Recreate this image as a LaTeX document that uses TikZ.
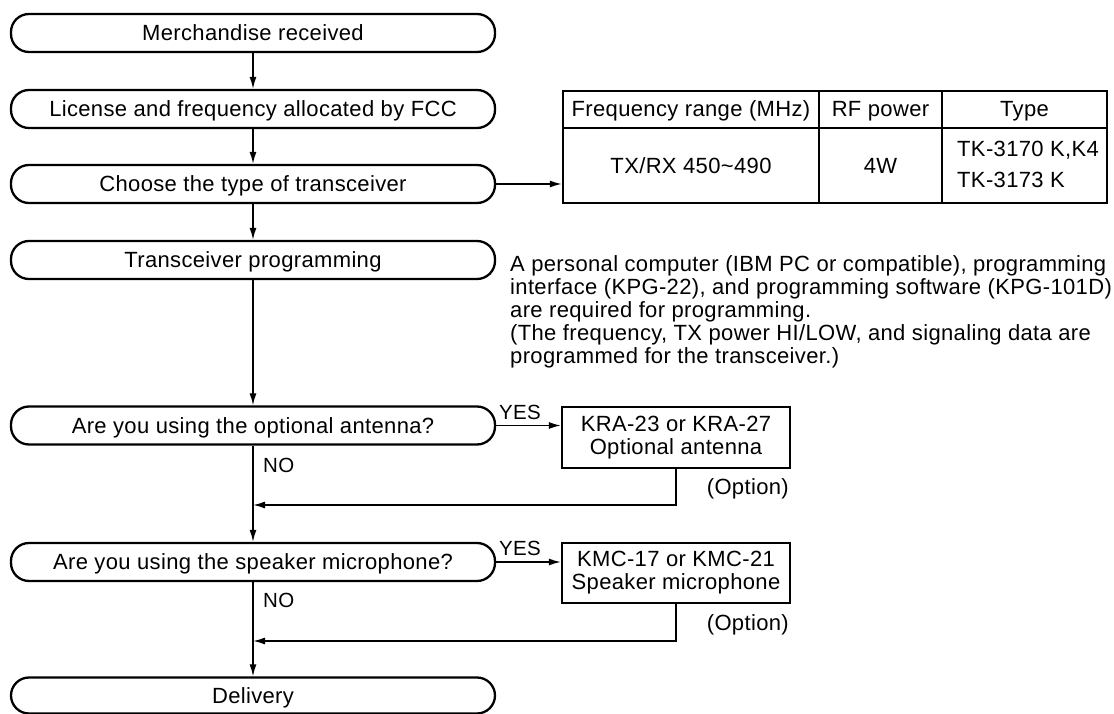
\documentclass[tikz,border=0pt]{standalone}
\usepackage{fontspec}
\setmainfont[LetterSpace=1.6]{Liberation Sans}
\usetikzlibrary{arrows.meta}
\newcommand\mainfs{\fontsize{22}{23}\selectfont}
\newcommand\smallfs{\fontsize{20.5}{23}\selectfont}
\tikzset{
  term/.style={draw, line width=2.3pt, rounded corners=18pt, minimum width=484pt,
    minimum height=38pt, inner sep=0pt, text height=15.5pt, text depth=0pt, font=\mainfs},
  optbox/.style={draw, line width=2.3pt, minimum width=228pt, inner sep=0pt,
    align=center, font=\mainfs},
  arr/.style={line width=1.5pt, -{Latex[length=12pt,width=7pt]}},
  lbl/.style={inner sep=0pt, font=\mainfs},
  yn/.style={inner sep=0pt, font=\smallfs},
  grid/.style={line width=1.8pt},
}
\begin{document}
\begin{tikzpicture}[x=1pt,y=-1pt]
\useasboundingbox (0,0) rectangle (1114,714);

% main flow
\node[term] (n1) at (253,33) {Merchandise received};
\node[term] (n2) at (253,109) {License and frequency allocated by FCC};
\node[term] (n3) at (253,184) {Choose the type of transceiver};
\node[term] (n4) at (253,260) {Transceiver programming};
\node[term] (n5) at (253,425.5) {Are you using the optional antenna?};
\node[term] (n6) at (253,562) {Are you using the speaker microphone?};
\node[term, minimum height=36pt] (n7) at (253,695.5) {Delivery};

\draw[arr] (n1) -- (n2);
\draw[arr] (n2) -- (n3);
\draw[arr] (n3) -- (n4);
\draw[arr] (n4) -- (n5);
\draw[arr] (n5) -- (n6);
\draw[arr] (n6) -- (n7);

% table
\node[draw, line width=2.4pt, minimum width=544pt, minimum height=112pt, inner sep=0pt] (tab) at (835,147) {};
\draw[grid] (563,128) -- (1107,128);
\draw[grid] (819,91) -- (819,203);
\draw[grid] (942,91) -- (942,203);
\node[lbl, anchor=base] (c11) at (691,117) {Frequency range (MHz)};
\node[lbl, anchor=base] (c12) at (880.5,117) {RF power};
\node[lbl, anchor=base] (c13) at (1024.5,117) {Type};
\node[lbl, anchor=base] (c21) at (691,173.5) {TX/RX 450\textasciitilde490};
\node[lbl, anchor=base] (c22) at (880.5,173.5) {4W};
\node[lbl, anchor=base west] (c23) at (957,157) {TK-3170 K,K4};
\node[lbl, anchor=base west] (c24) at (957,188) {TK-3173 K};
\draw[arr] (n3.east) -- (n3.east -| tab.west);

% note
\node[lbl, anchor=north west, align=left] (note) at (510,255)
  {A personal computer (IBM PC or compatible), programming\\
   interface (KPG-22), and programming software (KPG-101D)\\
   are required for programming.\\
   (The frequency, TX power HI/LOW, and signaling data are\\
   programmed for the transceiver.)};

% option boxes
\node[optbox, minimum height=61pt] (kra) at (676,437.5) {KRA-23 or KRA-27\\Optional antenna};
\node[optbox, minimum height=60pt] (kmc) at (676,573) {KMC-17 or KMC-21\\Speaker microphone};

\draw[arr] (n5.east) -- (n5.east -| kra.west);
\draw[arr] (n6.east) -- (n6.east -| kmc.west);
\node[yn, anchor=base] (yes1) at (520,419.5) {YES};
\node[yn, anchor=base] (yes2) at (520,555) {YES};
\node[yn, anchor=base west] (no1) at (263,472) {NO};
\node[yn, anchor=base west] (no2) at (263,607) {NO};

\coordinate (j1) at (253,505);
\coordinate (j2) at (253,641);
\draw[arr] (kra.south) |- (j1);
\draw[arr] (kmc.south) |- (j2);
\node[lbl, anchor=base east] (opt1) at (789,494) {(Option)};
\node[lbl, anchor=base east] (opt2) at (789,630) {(Option)};
\end{tikzpicture}
\end{document}
